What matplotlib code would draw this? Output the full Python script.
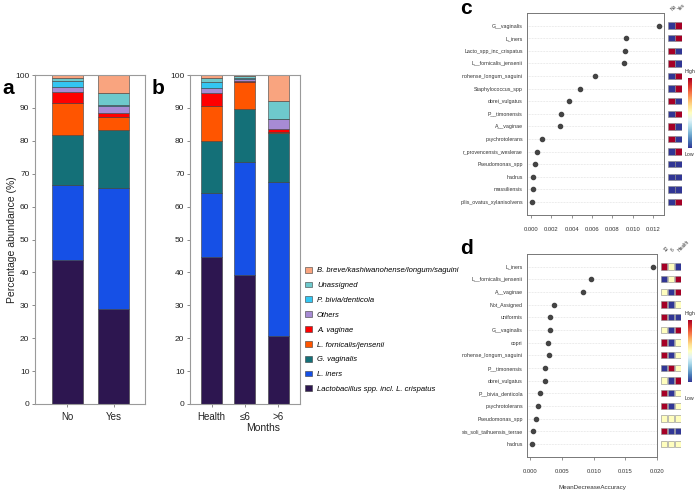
import numpy as np
import matplotlib.pyplot as plt
from matplotlib import cm
from matplotlib.colors import Normalize

plt.rcParams['font.family'] = ['Liberation Sans', 'DejaVu Sans']

W, H = 696, 493

def box(l, t, r, b):
    # pixel box -> figure fraction
    return [l / W, 1 - b / H, (r - l) / W, (b - t) / H]

# ---- stacked bar data (percent), bottom to top ----
taxa = ['Lactobacillus spp. incl. L. crispatus', 'L. iners', 'G. vaginalis',
        'L. fornicalis/jensenii', 'A. vaginae', 'Others', 'P. bivia/denticola',
        'Unassigned', 'B. breve/kashiwanohense/longum/saguini']
taxa_colors = ['#2d1650', '#1650e6', '#147078', '#ff5500', '#ff0000',
               '#a78bd4', '#33c6f2', '#6ec9cc', '#f9a47f']

groups_a = ['No', 'Yes']
no_vals = [43.7, 23.0, 15.0, 9.9, 3.1, 1.8, 1.6, 0.9, 1.0]
yes_vals = [28.8, 36.9, 17.6, 4.0, 1.0, 2.3, 0.2, 3.6, 5.6]

groups_b = ['Health', '≤6', '>6']
health_vals = [44.8, 19.2, 16.0, 10.7, 3.7, 1.8, 1.8, 1.0, 1.0]
le6_vals = [39.2, 34.3, 16.1, 8.4, 0.2, 0.7, 0.3, 0.4, 0.4]
gt6_vals = [20.8, 46.6, 15.0, 0.3, 0.8, 3.0, 0.1, 5.6, 7.8]

# ---- random forest importance, panel c ----
c_labels = ['G__vaginalis', 'L_iners', 'Lacto_spp_inc_crispatus', 'L__fornicalis_jensenii',
            'nohense_longum_saguini', 'Staphylococcus_spp', 'dorei_vulgatus',
            'P__timonensis', 'A__vaginae', 'psychrotolerans', 'r_provencensis_weslerae',
            'Pseudomonas_spp', 'hadrus', 'massiliensis', 'pilis_ovatus_xylanisolvens']
c_values = [0.0126, 0.00934, 0.00924, 0.00914, 0.0063, 0.0048, 0.0037, 0.0030,
            0.0029, 0.00105, 0.0006, 0.00036, 0.00023, 0.00016, 0.00013]
c_groups = ['No', 'Yes']
c_no = [0, 0, 1, 1, 0, 0, 1, 0, 1, 1, 0, 0, 0, 0, 0]
c_yes = [1, 1, 0, 0, 1, 1, 0, 1, 0, 0, 1, 0, 0, 0, 1]
c_ticks = [0.000, 0.002, 0.004, 0.006, 0.008, 0.010, 0.012]

# ---- panel d ----
d_labels = ['L_iners', 'L__fornicalis_jensenii', 'A__vaginae', 'Not_Assigned',
            'uniformis', 'G__vaginalis', 'copri', 'nohense_longum_saguini',
            'P__timonensis', 'dorei_vulgatus', 'P__bivia_denticola', 'psychrotolerans',
            'Pseudomonas_spp', 'sis_soli_taihuensis_terrae', 'hadrus']
d_values = [0.0193, 0.00953, 0.00837, 0.00374, 0.00316, 0.0031, 0.00284, 0.0029,
            0.00227, 0.00225, 0.00158, 0.00126, 0.0009, 0.00038, 0.00027]
d_groups = ['12', '6', 'Health']
d_12 = [1, 0, 0.5, 1, 1, 0.5, 1, 1, 0, 0.5, 1, 1, 0.5, 1, 0.5]
d_6 = [0.5, 0.5, 0, 0, 0, 0, 0, 0, 1, 0, 0, 0, 0.5, 0, 0.5]
d_health = [0, 1, 1, 0.5, 0, 1, 0.5, 0.5, 0.5, 1, 0.5, 0.5, 0.5, 0, 0.5]
d_ticks = [0.000, 0.005, 0.010, 0.015, 0.020]

cmap = plt.get_cmap('RdYlBu_r')

fig = plt.figure(figsize=(6.96, 4.93), dpi=100)

def style_bar_axes(ax):
    for s in ax.spines.values():
        s.set_color('#9a9a9a')
        s.set_linewidth(0.8)
    ax.set_ylim(0, 100)
    ax.set_yticks(range(0, 101, 10))
    ax.tick_params(axis='both', labelsize=6, length=2.5, width=0.6, pad=1.5,
                   color='#777777', labelcolor='#222222')

def stack(ax, names, series, width):
    vals = np.array(series)
    x = np.arange(len(names))
    bottom = np.zeros(len(names))
    for i, taxon in enumerate(taxa):
        ax.bar(x, vals[:, i], width, bottom=bottom, color=taxa_colors[i],
               edgecolor='#3c3c3c', linewidth=0.4, label=taxon)
        bottom += vals[:, i]
    ax.set_xticks(x)
    ax.set_xticklabels(names)

# panel a
ax_a = fig.add_axes(box(35, 75, 145, 404))
stack(ax_a, groups_a, [no_vals, yes_vals], 0.67)
ax_a.set_xlim(-0.70, 1.67)
style_bar_axes(ax_a)
ax_a.tick_params(axis='x', labelsize=7, pad=3)
fig.text(12 / W, 1 - 240 / H, 'Percentage abundance (%)', rotation=90,
         ha='center', va='center', fontsize=7.5, color='#222222')

# panel b
ax_b = fig.add_axes(box(190, 75, 300, 404))
stack(ax_b, groups_b, [health_vals, le6_vals, gt6_vals], 0.63)
ax_b.set_xlim(-0.65, 2.66)
style_bar_axes(ax_b)
ax_b.tick_params(axis='x', labelsize=7, pad=3)
fig.text(263 / W, 1 - 428 / H, 'Months', ha='center', va='center', fontsize=7.5,
         color='#222222')

handles, labels = ax_b.get_legend_handles_labels()
fig.legend(handles[::-1], labels[::-1], loc='upper left',
           bbox_to_anchor=(301 / W, 1 - 263 / H), frameon=False,
           prop={'size': 5.5, 'style': 'italic'}, labelspacing=0.95,
           handlelength=0.9, handleheight=0.8, handletextpad=0.7, borderpad=0)

fig.text(2 / W, 1 - 88 / H, 'a', fontsize=15, fontweight='bold', va='center')
fig.text(152 / W, 1 - 88 / H, 'b', fontsize=15, fontweight='bold', va='center')

def dot_panel(rect, labels, values, ticks, xlim, ticklabels):
    ax = fig.add_axes(rect)
    rows = np.arange(len(labels))
    for r in rows:
        ax.axhline(r, color='#d8d8d8', lw=0.5, ls=(0, (1, 1.2)), zorder=0)
    ax.plot(values, rows, 'o', color='#444444', ms=3, zorder=3)
    ax.set_ylim(len(labels) - 1 + 1.03, -1.0)
    ax.set_xlim(*xlim)
    ax.set_yticks(rows)
    ax.set_yticklabels(labels)
    ax.set_xticks(ticks)
    ax.set_xticklabels(ticklabels)
    ax.tick_params(axis='y', length=0, labelsize=3.8, pad=3, labelcolor='#333333')
    ax.tick_params(axis='x', length=2.5, width=0.5, labelsize=4.2, pad=6,
                   color='#666666', labelcolor='#333333')
    for s in ax.spines.values():
        s.set_color('#777777')
        s.set_linewidth(0.7)
    return ax

def heat_panel(rect, cols, n_rows, groups):
    ax = fig.add_axes(rect)
    rows = np.arange(n_rows)
    for j, col in enumerate(cols):
        ax.barh(rows, 0.88, left=j - 0.44, height=0.5, color=cmap(np.array(col, float)),
                edgecolor='#8a8a8a', linewidth=0.4)
    ax.set_ylim(n_rows - 1 + 1.03, -1.0)
    ax.set_xlim(-0.5, len(cols) - 0.5)
    ax.axis('off')
    for j, g in enumerate(groups):
        ax.text(j - 0.2, -1.1, g, rotation=45, ha='left', va='bottom', fontsize=3.5,
                color='#333333', clip_on=False)
    return ax

def colorbar(rect, t_high, t_low):
    cax = fig.add_axes(rect)
    cb = fig.colorbar(cm.ScalarMappable(norm=Normalize(0, 1), cmap=cmap), cax=cax)
    cb.outline.set_visible(False)
    cb.set_ticks([])
    fig.text(685 / W, 1 - t_high / H, 'High', fontsize=3.8, va='center', color='#333333')
    fig.text(685 / W, 1 - t_low / H, 'Low', fontsize=3.8, va='center', color='#333333')

# panel c
dot_panel(box(527, 13, 664, 215), c_labels, c_values, c_ticks,
          (-0.00039, 0.01308), [f'{t:.3f}' for t in c_ticks])
heat_panel(box(668, 13, 682, 215), [c_no, c_yes], len(c_labels), c_groups)
colorbar(box(688, 78, 692, 148), 72, 155)
fig.text(460 / W, 1 - 9 / H, 'c', fontsize=15, fontweight='bold', va='center')

# panel d
ax_d = dot_panel(box(527, 254, 657, 457), d_labels, d_values, d_ticks,
                 (-0.00052, 0.0200), [f'{t:.3f}' for t in d_ticks])
ax_d.set_xlabel('MeanDecreaseAccuracy', fontsize=4.5, labelpad=8, color='#333333')
heat_panel(box(661, 254, 681, 457), [d_12, d_6, d_health], len(d_labels), d_groups)
colorbar(box(688, 320, 692, 382), 313, 398)
fig.text(460 / W, 1 - 249 / H, 'd', fontsize=15, fontweight='bold', va='center')

fig.savefig('out.png', dpi=100)
